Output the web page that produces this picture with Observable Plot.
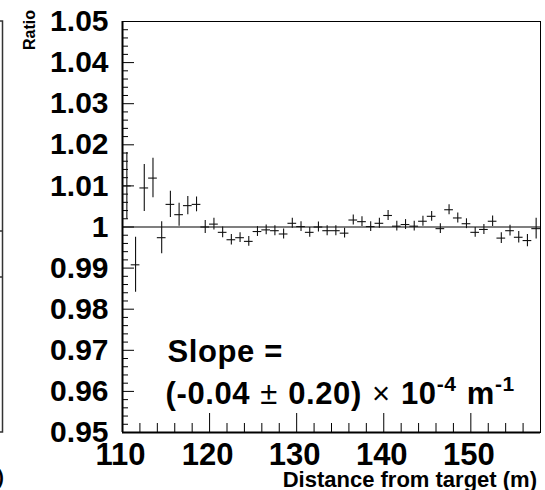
<!DOCTYPE html>
<html><head><meta charset="utf-8">
<script src="https://cdn.jsdelivr.net/npm/d3@7"></script>
<script src="https://cdn.jsdelivr.net/npm/@observablehq/plot@0.6"></script>
<style>
html,body{margin:0;padding:0;background:#fff;}
#chart svg{display:block;}
</style></head><body><div id="chart"></div>
<script>
// ---- data ----
const binCenters = [110.5,111.5,112.5,113.5,114.5,115.5,116.5,117.5,118.5,119.5,
  120.5,121.5,122.5,123.5,124.5,125.5,126.5,127.5,128.5,129.5,
  130.5,131.5,132.5,133.5,134.5,135.5,136.5,137.5,138.5,139.5,
  140.5,141.5,142.5,143.5,144.5,145.5,146.5,147.5,148.5,149.5,
  150.5,151.5,152.5,153.5,154.5,155.5,156.5,157.5];
const ratios = [1.0100,0.9908,1.0095,1.0119,0.9974,1.0055,1.0030,1.0052,1.0055,1.0000,
  1.0007,0.9987,0.9969,0.9974,0.9965,0.9989,0.9993,0.9991,0.9983,1.0009,
  1.0001,0.9987,1.0000,0.9991,0.9991,0.9985,1.0017,1.0013,1.0001,1.0009,
  1.0028,1.0002,1.0006,1.0002,1.0014,1.0026,0.9996,1.0042,1.0022,1.0008,
  0.9987,0.9994,1.0014,0.9973,0.9991,0.9975,0.9967,0.9996];
const errors = [0.0081,0.0067,0.0057,0.0048,0.0039,0.0032,0.0028,0.0022,0.0018,0.0016,
  0.0014,0.0013,0.0013,0.0012,0.0012,0.0012,0.0012,0.0012,0.0012,0.0012,
  0.0012,0.0012,0.0012,0.0012,0.0012,0.0012,0.0012,0.0012,0.0012,0.0012,
  0.0012,0.0012,0.0012,0.0012,0.0012,0.0012,0.0012,0.0012,0.0012,0.0012,
  0.0012,0.0012,0.0013,0.0013,0.0013,0.0014,0.0015,0.0025];
const binHalfWidth = 0.5;
const fitValue = 1.0;
const xDomain = [110, 158];
const yDomain = [0.95, 1.05];
const xMajorTicks = [110,120,130,140,150];
const xTickLabels = ["110","120","130","140","150"];
const yMajorTicks = [0.95,0.96,0.97,0.98,0.99,1.00,1.01,1.02,1.03,1.04,1.05];
const yTickLabels = ["0.95","0.96","0.97","0.98","0.99","1","1.01","1.02","1.03","1.04","1.05"];
const xTitle = "Distance from target (m)";
const yTitle = "Ratio";
const slopeLine1 = "Slope =";
const slopeValue = "-0.04", slopeError = "0.20", slopeExp = "-4", unitExp = "-1";
const annotX = 115.0, slopeY = 0.9671, formulaY = 0.9567;

const rows = binCenters.map((x,i)=>({x, y: ratios[i], e: errors[i]}));
const xMinor = d3.range(110, 158.001, 2).filter(v => v % 10 !== 0);
const yMinor = d3.range(0, 51).map(i => +(0.95 + i*0.002).toFixed(3)).filter(v => Math.round(v*1000) % 10 !== 0);

const W = 545, H = 490, mL = 122, mR = 5, mT = 21, mB = 58;
const pw = W - mL - mR, ph = H - mT - mB;
const font = "'Liberation Sans', Arial, Helvetica, sans-serif";

const plot = Plot.plot({
  width: W, height: H,
  marginLeft: mL, marginRight: mR, marginTop: mT, marginBottom: mB,
  style: {fontFamily: font, background: "#fff", color: "#000"},
  x: {domain: xDomain},
  y: {domain: yDomain},
  marks: [
    Plot.frame({stroke: "#000", strokeWidth: 1}),
    Plot.ruleX([xDomain[0]], {stroke: "#000", strokeWidth: 2}),
    Plot.ruleY([yDomain[0]], {stroke: "#000", strokeWidth: 2}),
    // inside ticks (ROOT style)
    Plot.tickY(yMajorTicks, {y: d => d, stroke: "#000", insetRight: pw - 12}),
    Plot.tickY(yMinor, {y: d => d, stroke: "#000", insetRight: pw - 6}),
    Plot.tickX(xMajorTicks, {x: d => d, stroke: "#000", insetTop: ph - 19}),
    Plot.tickX(xMinor, {x: d => d, stroke: "#000", insetTop: ph - 9}),
    Plot.axisY({ticks: yMajorTicks, tickSize: 0, tickPadding: 14, fontSize: 30, fontWeight: "bold",
      tickFormat: d => yTickLabels[yMajorTicks.findIndex(t => Math.abs(t - d) < 1e-9)], label: null}),
    Plot.axisX({ticks: xMajorTicks, tickSize: 0, tickPadding: 10, fontSize: 31, fontWeight: "bold",
      tickFormat: d => xTickLabels[xMajorTicks.indexOf(d)], label: null, dx: -2}),
    // fit line
    Plot.ruleY([fitValue], {stroke: "#000", strokeWidth: 1.2}),
    // error bars
    Plot.ruleX(rows, {x: "x", y1: d => d.y - d.e, y2: d => d.y + d.e, stroke: "#111", strokeWidth: 1.1}),
    Plot.ruleY(rows, {y: "y", x1: d => d.x - binHalfWidth, x2: d => d.x + binHalfWidth, stroke: "#111", strokeWidth: 1.1})
  ]
});

const svg = d3.select(plot);
const sx = plot.scale("x"), sy = plot.scale("y");

// axis titles
svg.append("text").attr("x", W - 8).attr("y", 487).attr("text-anchor", "end")
  .attr("font-family", font).attr("font-weight", "bold").attr("font-size", 22).text(xTitle);
svg.append("text").attr("transform", "translate(35,10) rotate(-90)").attr("text-anchor", "end")
  .attr("font-family", font).attr("font-weight", "bold").attr("font-size", 16).text(yTitle);

// slope annotation
const ax = sx.apply(annotX);
svg.append("text").attr("x", ax + 2).attr("y", sy.apply(slopeY)).attr("text-anchor", "start")
  .attr("font-family", font).attr("font-weight", "bold").attr("font-size", 31)
  .attr("letter-spacing", 0.6).text(slopeLine1);
const t = svg.append("text").attr("x", ax).attr("y", sy.apply(formulaY)).attr("text-anchor", "start")
  .attr("font-family", font).attr("font-weight", "bold").attr("font-size", 31)
  .attr("letter-spacing", 0.6).attr("word-spacing", 1);
t.append("tspan").text("(" + slopeValue + " ");
t.append("tspan").attr("font-weight", "normal").text("\u00B1");
t.append("tspan").text(" " + slopeError + ") ");
t.append("tspan").attr("font-weight", "normal").text("\u00D7");
t.append("tspan").text(" 10");
t.append("tspan").attr("font-size", 21).attr("dy", -13).text(slopeExp);
t.append("tspan").attr("dy", 13).text(" m");
t.append("tspan").attr("font-size", 21).attr("dy", -13).text(unitExp);

// edge of neighbouring panel (clipped in the reference)
const g = svg.append("g").attr("stroke", "#333").attr("stroke-width", 1.5).attr("fill", "none");
g.append("path").attr("d", "M0,432H2.5V21H0");
g.append("path").attr("d", "M0,231H2.5M0,277H2.5");
svg.append("text").attr("x", 4).attr("y", 484).attr("text-anchor", "end")
  .attr("font-family", font).attr("font-weight", "bold").attr("font-size", 20).text(")");

document.getElementById("chart").appendChild(plot);
</script></body></html>
